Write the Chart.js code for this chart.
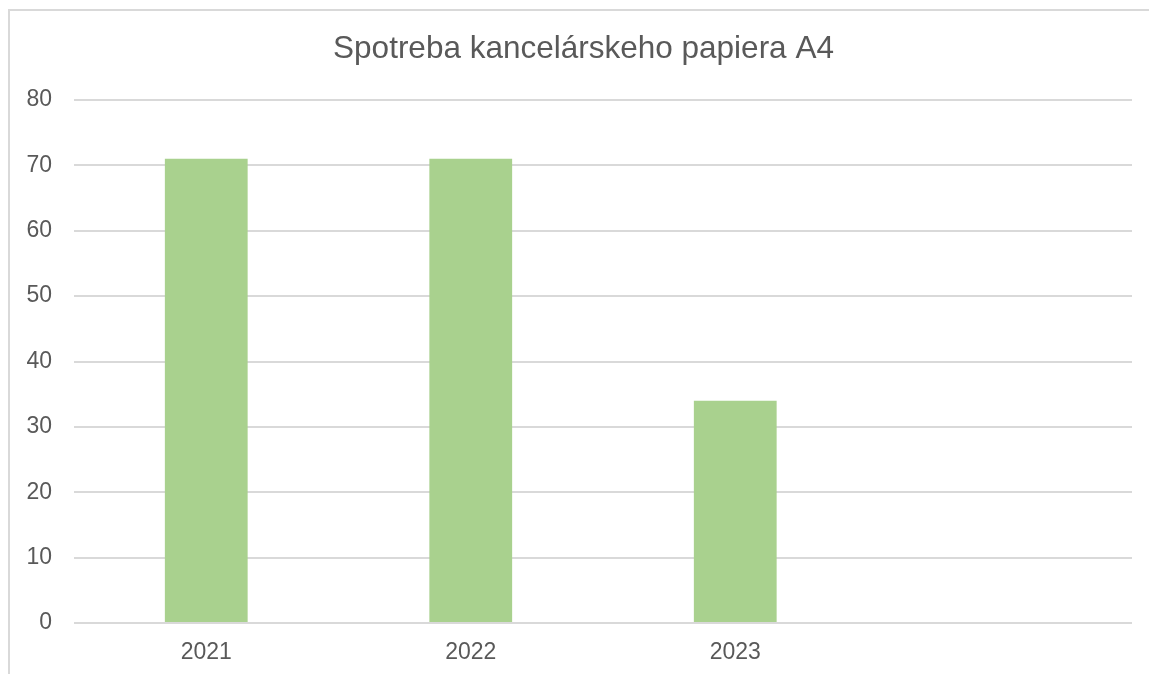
<!DOCTYPE html>
<html>
<head>
<meta charset="utf-8">
<script src="https://cdn.jsdelivr.net/npm/chart.js@4"></script>
<style>
  html, body { margin: 0; padding: 0; background: #ffffff; overflow: hidden; }
  #frame { position: absolute; left: 8px; top: 9px; width: 1200px; height: 720px; border: 2px solid #d9d9d9; box-sizing: border-box; }
  #wrap { position: absolute; left: 0; top: 0; width: 1149px; height: 674px; }
</style>
</head>
<body>
<div id="frame"></div>
<div id="wrap"><canvas id="c" width="1149" height="674"></canvas></div>
<script>
const titleText = 'Spotreba kancelárskeho papiera A4';
const categories = ['2021', '2022', '2023', ''];
const consumption = [71, 71, 34, null];
const yTicks = [0, 10, 20, 30, 40, 50, 60, 70, 80];

const textColor = '#595959';
const gridColor = '#d9d9d9';
const barColor = '#a9d18e';

const titleShift = {
  id: 'titleShift',
  afterLayout(chart) {
    if (chart.titleBlock) { chart.titleBlock.left = 35; }
  }
};

new Chart(document.getElementById('c'), {
  type: 'bar',
  data: {
    labels: categories,
    datasets: [{
      label: titleText,
      data: consumption,
      backgroundColor: barColor,
      borderWidth: 0,
      categoryPercentage: 1.0,
      barPercentage: 0.313
    }]
  },
  plugins: [titleShift],
  options: {
    responsive: false,
    animation: false,
    events: [],
    layout: { padding: { left: 0, right: 17, top: 0, bottom: 0 } },
    plugins: {
      legend: { display: false },
      tooltip: { enabled: false },
      title: {
        display: true,
        text: titleText,
        color: textColor,
        font: { family: 'Liberation Sans, Arial, sans-serif', size: 31.5, weight: 'normal' },
        padding: { top: 30, bottom: 32.2 }
      }
    },
    scales: {
      x: {
        grid: { display: false, drawTicks: false },
        border: { display: false },
        ticks: {
          color: textColor,
          font: { family: 'Liberation Sans, Arial, sans-serif', size: 23 },
          padding: 16,
          maxRotation: 0
        },
        afterFit: (s) => { s.height = 51; }
      },
      y: {
        min: 0,
        max: 80,
        afterBuildTicks: (s) => { s.ticks = yTicks.map(v => ({ value: v })); },
        grid: { color: gridColor, lineWidth: 2, drawTicks: false },
        border: { display: false },
        ticks: {
          color: textColor,
          font: { family: 'Liberation Sans, Arial, sans-serif', size: 23 },
          padding: 22
        },
        afterFit: (s) => { s.width = 74; }
      }
    }
  }
});
</script>
</body>
</html>
